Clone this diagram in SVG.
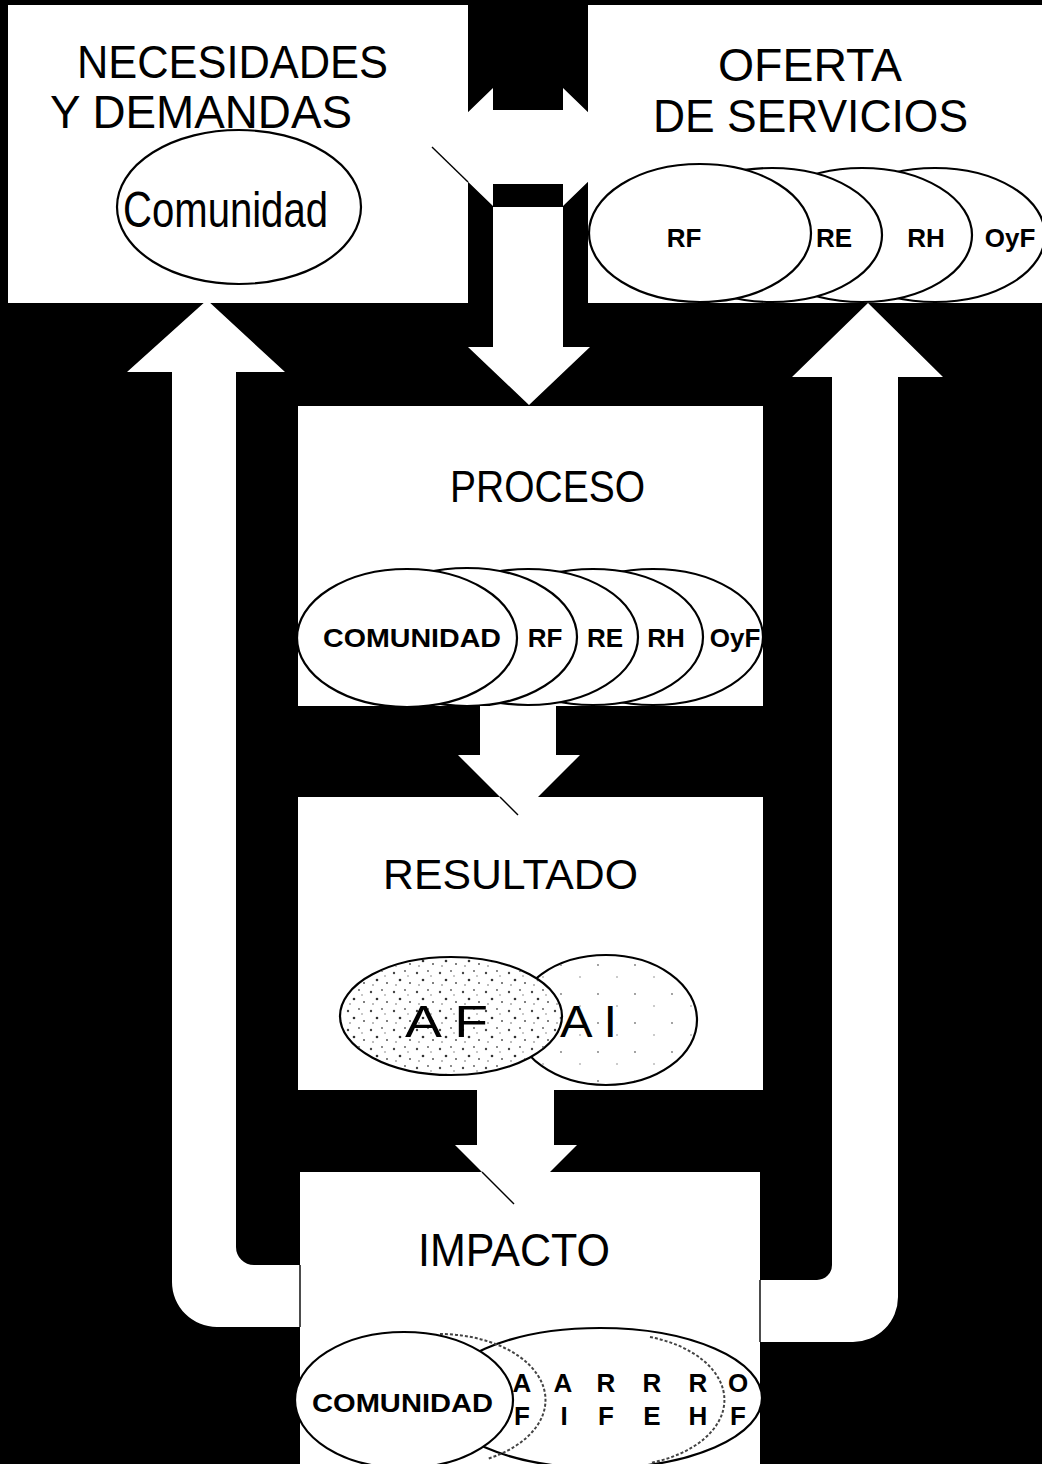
<svg xmlns="http://www.w3.org/2000/svg" width="1042" height="1464" viewBox="0 0 1042 1464">
<style>
.box{fill:#fff}
.t{font-family:"Liberation Sans",Arial,sans-serif;fill:#000}
.big{font-size:46px}
.lb{font-weight:bold;font-size:26px}
.el{fill:#fff;stroke:#000;stroke-width:2.2}
.dash{fill:none;stroke:#444;stroke-width:2;stroke-dasharray:3 2}
.arr{fill:#fff}
.edge{stroke:#000;stroke-width:1.4;fill:none}
</style>
<defs>
<pattern id="spk" width="23" height="19" patternUnits="userSpaceOnUse">
<circle cx="3" cy="4" r="1.2" fill="#444"/>
<circle cx="14" cy="2" r="0.9" fill="#555"/>
<circle cx="9" cy="11" r="1.3" fill="#333"/>
<circle cx="19" cy="14" r="1" fill="#555"/>
<circle cx="5" cy="16" r="0.8" fill="#666"/>
<circle cx="17" cy="7" r="0.7" fill="#666"/>
</pattern>
<pattern id="spk2" width="37" height="29" patternUnits="userSpaceOnUse">
<circle cx="6" cy="8" r="0.9" fill="#777"/>
<circle cx="25" cy="20" r="0.8" fill="#888"/>
</pattern>
</defs>
<rect x="0" y="0" width="1042" height="1464" fill="#000"/>

<g id="necesidades">
<rect class="box" x="8" y="5" width="460" height="298"/>
<text class="t big" x="77" y="78" textLength="311" lengthAdjust="spacingAndGlyphs">NECESIDADES</text>
<text class="t big" x="50" y="128" textLength="302" lengthAdjust="spacingAndGlyphs">Y DEMANDAS</text>
<ellipse class="el" cx="239" cy="207" rx="122" ry="77"/>
<text class="t" x="123" y="227" font-size="50" textLength="205" lengthAdjust="spacingAndGlyphs">Comunidad</text>
</g>

<g id="oferta">
<rect class="box" x="588" y="5" width="454" height="298"/>
<text class="t big" x="718" y="81" textLength="184" lengthAdjust="spacingAndGlyphs">OFERTA</text>
<text class="t big" x="653" y="132" textLength="315" lengthAdjust="spacingAndGlyphs">DE SERVICIOS</text>
<ellipse class="el" cx="935" cy="235" rx="110" ry="67"/>
<ellipse class="el" cx="862" cy="235" rx="110" ry="67"/>
<ellipse class="el" cx="772" cy="235" rx="110" ry="67"/>
<ellipse class="el" cx="700" cy="233" rx="111" ry="69"/>
<g class="t lb" font-size="27" text-anchor="middle">
<text x="684" y="247">RF</text>
<text x="834" y="247">RE</text>
<text x="926" y="247">RH</text>
<text x="1010" y="247">OyF</text>
</g>
</g>

<g id="proceso">
<rect class="box" x="298" y="406" width="465" height="300"/>
<text class="t" x="450" y="502" font-size="45" textLength="195" lengthAdjust="spacingAndGlyphs">PROCESO</text>
<ellipse class="el" cx="653" cy="637" rx="110" ry="68"/>
<ellipse class="el" cx="593" cy="637" rx="110" ry="68"/>
<ellipse class="el" cx="528" cy="637" rx="110" ry="68"/>
<ellipse class="el" cx="467" cy="637" rx="110" ry="69"/>
<ellipse class="el" cx="407" cy="638" rx="110" ry="69"/>
<text class="t lb" x="323" y="647" font-size="27" textLength="178" lengthAdjust="spacingAndGlyphs">COMUNIDAD</text>
<g class="t lb" font-size="27" text-anchor="middle">
<text x="545" y="647">RF</text>
<text x="605" y="647">RE</text>
<text x="666" y="647">RH</text>
<text x="735" y="647">OyF</text>
</g>
</g>

<g id="resultado">
<rect class="box" x="298" y="797" width="465" height="293"/>
<text class="t" x="383" y="889" font-size="43" textLength="255" lengthAdjust="spacingAndGlyphs">RESULTADO</text>
<ellipse class="el" cx="606" cy="1020" rx="91" ry="65"/>
<ellipse cx="606" cy="1020" rx="90" ry="64" fill="url(#spk2)"/>
<ellipse class="el" cx="451" cy="1016" rx="111" ry="59"/>
<ellipse cx="451" cy="1016" rx="110" ry="58" fill="url(#spk)"/>
<text class="t" x="405" y="1037" font-size="44" textLength="83" lengthAdjust="spacingAndGlyphs">A F</text>
<text class="t" x="560" y="1037" font-size="44" textLength="57" lengthAdjust="spacingAndGlyphs">A I</text>
</g>

<g id="impacto">
<rect class="box" x="300" y="1172" width="460" height="292"/>
<text class="t" x="418" y="1266" font-size="47" textLength="192" lengthAdjust="spacingAndGlyphs">IMPACTO</text>
<ellipse class="el" cx="600" cy="1398" rx="162" ry="70"/>
<path class="dash" d="M440,1334 A106 66 0 0 1 487,1459"/>
<path class="dash" d="M650,1337 A106 66 0 0 1 650,1463"/>
<ellipse class="el" cx="404" cy="1400" rx="109" ry="68"/>
<text class="t lb" x="312" y="1412" textLength="181" lengthAdjust="spacingAndGlyphs">COMUNIDAD</text>
<g class="t lb" font-size="27" text-anchor="middle">
<text x="522" y="1392">A</text><text x="563" y="1392">A</text><text x="606" y="1392">R</text><text x="652" y="1392">R</text><text x="698" y="1392">R</text><text x="738" y="1392">O</text>
<text x="522" y="1425">F</text><text x="564" y="1425">I</text><text x="606" y="1425">F</text><text x="652" y="1425">E</text><text x="698" y="1425">H</text><text x="738" y="1425">F</text>
</g>
</g>

<g id="connectors">
<polygon class="arr" points="432,147 493,88 493,110 563,110 563,88 624,147 563,206 563,184 493,184 493,206"/>
<line class="edge" x1="432" y1="147" x2="468" y2="182"/>
<polygon class="arr" points="493,207 563,207 563,347 590,347 529,405 468,347 493,347"/>
<polygon class="arr" points="480,706 556,706 556,755 580,755 519,816 458,755 480,755"/>
<line class="edge" x1="500" y1="797" x2="518" y2="815"/>
<polygon class="arr" points="477,1090 554,1090 554,1145 577,1145 516,1206 455,1145 477,1145"/>
<line class="edge" x1="482" y1="1172" x2="514" y2="1204"/>
<path class="arr" d="M172,372 L127,372 L207,300 L285,372 L236,372 L236,1247 A18 18 0 0 0 254,1265 L300,1265 L300,1327 L217,1327 A45 45 0 0 1 172,1282 Z"/>
<line class="edge" x1="300" y1="1265" x2="300" y2="1327"/>
<path class="arr" d="M832,377 L792,377 L868,303 L943,377 L898,377 L898,1297 A45 45 0 0 1 853,1342 L760,1342 L760,1280 L817,1280 A15 15 0 0 0 832,1265 Z"/>
<line class="edge" x1="760" y1="1280" x2="760" y2="1342"/>
</g>
</svg>
